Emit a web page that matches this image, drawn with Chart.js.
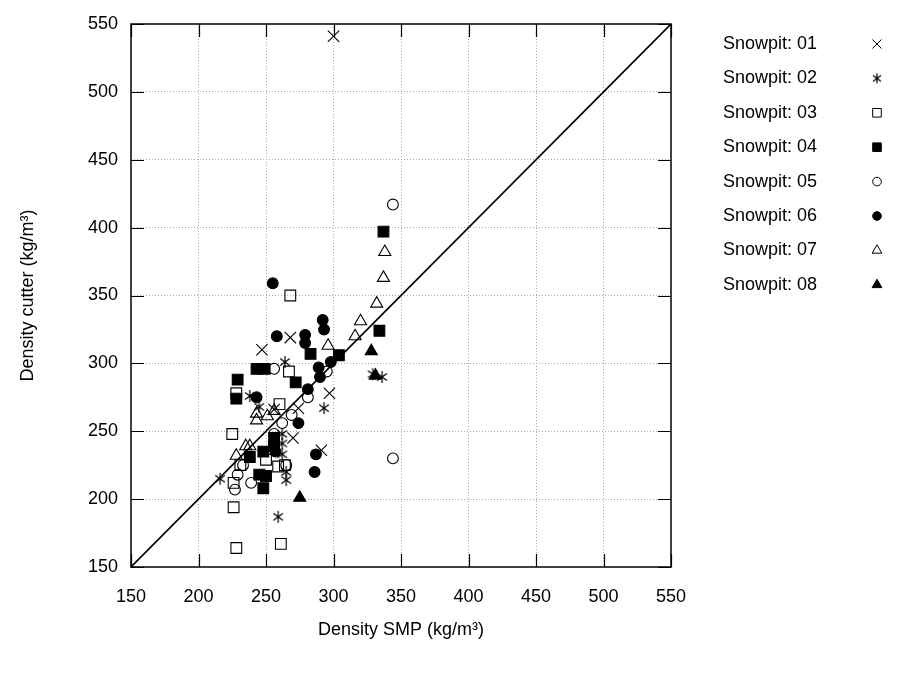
<!DOCTYPE html>
<html>
<head>
<meta charset="utf-8">
<title>Density SMP vs cutter</title>
<script src="https://cdn.jsdelivr.net/npm/chart.js@4/dist/chart.umd.min.js"></script>
<style>
  html, body { margin: 0; padding: 0; background: #fff; }
  canvas { display: block; }
</style>
</head>
<body>
<canvas id="chart" width="917" height="673"></canvas>
<script>
// Axis setup
const axisMin = 150;
const axisMax = 550;
const axisStep = 50;

// 1:1 reference line
const oneToOne = [150, 550];

// Series labels
const pitLabels = ['Snowpit: 01', 'Snowpit: 02', 'Snowpit: 03', 'Snowpit: 04',
                   'Snowpit: 05', 'Snowpit: 06', 'Snowpit: 07', 'Snowpit: 08'];

// Density SMP (x) and density cutter (y), per snowpit
const smp01 = [300, 268, 247, 297, 274, 256, 270, 291];
const cut01 = [541, 319, 310, 278, 267, 266, 245, 236];

const smp02 = [216, 238, 245, 264, 293, 329, 336, 262, 262, 262, 265, 265, 259];
const cut02 = [215, 276, 268, 301, 267, 292, 290, 248, 241, 233, 220, 214, 187];

const smp03 = [268, 267, 228, 260, 225, 250, 231, 259, 264, 226, 226, 228, 261];
const cut03 = [350, 294, 278, 270, 248, 229, 225, 224, 225, 212, 194, 164, 167];

const smp04 = [337, 334, 304, 283, 272, 243, 249, 229, 228, 256, 256, 238, 248, 245, 250, 248];
const cut04 = [397, 324, 306, 307, 286, 296, 296, 288, 274, 245, 239, 231, 235, 218, 217, 208];

const smp05 = [344, 344, 256, 295, 281, 269, 262, 256, 233, 265, 229, 239, 227];
const cut05 = [417, 230, 296, 294, 275, 262, 256, 248, 225, 225, 218, 212, 207];

const smp06 = [255, 292, 293, 258, 279, 279, 289, 298, 290, 281, 243, 274, 257, 287, 286];
const cut06 = [359, 332, 325, 320, 321, 315, 297, 301, 290, 281, 275, 256, 235, 233, 220];

const smp07 = [338, 337, 332, 320, 316, 296, 243, 243, 251, 256, 235, 238, 228];
const cut07 = [382, 363, 344, 331, 320, 313, 263, 258, 261, 265, 239, 239, 232];

const smp08 = [328, 331, 275];
const cut08 = [309, 291, 201];

const FONT = '"Liberation Sans", Arial, Helvetica, sans-serif';

// gnuplot-like asterisk (vertical bar + x)
const makeAsterisk = (size) => {
  const c = document.createElement('canvas');
  c.width = size;
  c.height = size;
  const g = c.getContext('2d');
  const m = size / 2;
  const r = m - 1;
  const d = r * 0.8;
  g.strokeStyle = '#000';
  g.lineWidth = 1.2;
  g.beginPath();
  g.moveTo(m, m - r); g.lineTo(m, m + r);
  g.moveTo(m - d, m - d * 0.75); g.lineTo(m + d, m + d * 0.75);
  g.moveTo(m + d, m - d * 0.75); g.lineTo(m - d, m + d * 0.75);
  g.stroke();
  return c;
};
const asterisk = makeAsterisk(14);
const asteriskKey = makeAsterisk(12);

const pairs = (xs, ys) => xs.map((x, i) => ({ x: x, y: ys[i] }));

const markerStyles = [
  { pointStyle: 'crossRot', radius: 8, fill: false },
  { pointStyle: asterisk, radius: 7, fill: false },
  { pointStyle: 'rect', radius: 7.6, fill: false },
  { pointStyle: 'rect', radius: 7.6, fill: true },
  { pointStyle: 'circle', radius: 5.4, fill: false },
  { pointStyle: 'circle', radius: 5.4, fill: true },
  { pointStyle: 'triangle', radius: 7, fill: false },
  { pointStyle: 'triangle', radius: 7, fill: true }
];

const seriesX = [smp01, smp02, smp03, smp04, smp05, smp06, smp07, smp08];
const seriesY = [cut01, cut02, cut03, cut04, cut05, cut06, cut07, cut08];

const pitDatasets = pitLabels.map((label, i) => {
  const m = markerStyles[i];
  return {
    label: label,
    data: pairs(seriesX[i], seriesY[i]),
    pointStyle: m.pointStyle,
    pointRadius: m.radius,
    pointHoverRadius: m.radius,
    pointBorderWidth: 1.1,
    pointBorderColor: '#000',
    pointBackgroundColor: m.fill ? '#000' : 'rgba(0,0,0,0)',
    showLine: false
  };
});

const lineDataset = {
  label: '1:1',
  data: pairs(oneToOne, oneToOne),
  showLine: true,
  borderColor: '#000',
  borderWidth: 1.6,
  pointRadius: 0,
  pointHoverRadius: 0,
  fill: false
};

// Frame with inward (mirrored) tics, like gnuplot
const framePlugin = {
  id: 'frame',
  afterDraw(chart) {
    const { ctx, chartArea: a, scales } = chart;
    const tic = 13;
    ctx.save();
    ctx.strokeStyle = '#000';
    ctx.lineWidth = 1.2;
    ctx.beginPath();
    scales.x.ticks.forEach(t => {
      const px = Math.round(scales.x.getPixelForValue(t.value)) + 0.5;
      ctx.moveTo(px, a.bottom); ctx.lineTo(px, a.bottom - tic);
      ctx.moveTo(px, a.top); ctx.lineTo(px, a.top + tic);
    });
    scales.y.ticks.forEach(t => {
      const py = Math.round(scales.y.getPixelForValue(t.value)) + 0.5;
      ctx.moveTo(a.left, py); ctx.lineTo(a.left + tic, py);
      ctx.moveTo(a.right, py); ctx.lineTo(a.right - tic, py);
    });
    ctx.stroke();
    ctx.lineWidth = 1.5;
    ctx.strokeRect(a.left, a.top, a.right - a.left, a.bottom - a.top);
    ctx.restore();
  }
};

// Legend to the right: label first, marker after
const keyPlugin = {
  id: 'key',
  afterDraw(chart) {
    const { ctx } = chart;
    const textX = 723;
    const markX = 877;
    const top = 44;
    const rowH = 34.4;
    ctx.save();
    ctx.font = '18px ' + FONT;
    ctx.textAlign = 'left';
    ctx.textBaseline = 'middle';
    pitLabels.forEach((label, i) => {
      const y = top + i * rowH;
      ctx.fillStyle = '#000';
      ctx.fillText(label, textX, y);
      const m = markerStyles[i];
      ctx.strokeStyle = '#000';
      ctx.lineWidth = 1;
      ctx.fillStyle = m.fill ? '#000' : 'rgba(0,0,0,0)';
      Chart.helpers.drawPoint(ctx, {
        pointStyle: m.pointStyle === asterisk ? asteriskKey : m.pointStyle,
        radius: m.radius * 0.8,
        rotation: 0,
        borderWidth: 1
      }, markX, y);
    });
    ctx.restore();
  }
};

const gridColor = ctx => {
  const v = ctx.tick && ctx.tick.value;
  return (v === axisMin || v === axisMax) ? 'rgba(0,0,0,0)' : '#a8a8a8';
};

new Chart(document.getElementById('chart'), {
  type: 'scatter',
  data: { datasets: [lineDataset].concat(pitDatasets) },
  options: {
    responsive: false,
    devicePixelRatio: 1,
    animation: false,
    layout: { padding: { top: 24, right: 246, bottom: 0, left: 0 } },
    plugins: {
      legend: { display: false },
      tooltip: { enabled: false }
    },
    scales: {
      x: {
        type: 'linear',
        min: axisMin,
        max: axisMax,
        ticks: {
          stepSize: axisStep,
          color: '#000',
          padding: 19,
          font: { family: FONT, size: 18 }
        },
        grid: { color: gridColor, lineWidth: 1, drawTicks: false },
        border: { display: false, dash: [1, 2] },
        title: {
          display: true,
          text: 'Density SMP (kg/m³)',
          color: '#000',
          font: { family: FONT, size: 18 },
          padding: { top: 0, bottom: 32 }
        },
        afterFit(scale) { scale.height = 106; }
      },
      y: {
        type: 'linear',
        min: axisMin,
        max: axisMax,
        ticks: {
          stepSize: axisStep,
          color: '#000',
          padding: 13,
          font: { family: FONT, size: 18 }
        },
        grid: { color: gridColor, lineWidth: 1, drawTicks: false },
        border: { display: false, dash: [1, 2] },
        title: {
          display: true,
          text: 'Density cutter (kg/m³)',
          color: '#000',
          font: { family: FONT, size: 18 },
          padding: { top: 17, bottom: 0 }
        },
        afterFit(scale) { scale.width = 131; }
      }
    }
  },
  plugins: [framePlugin, keyPlugin]
});
</script>
</body>
</html>
